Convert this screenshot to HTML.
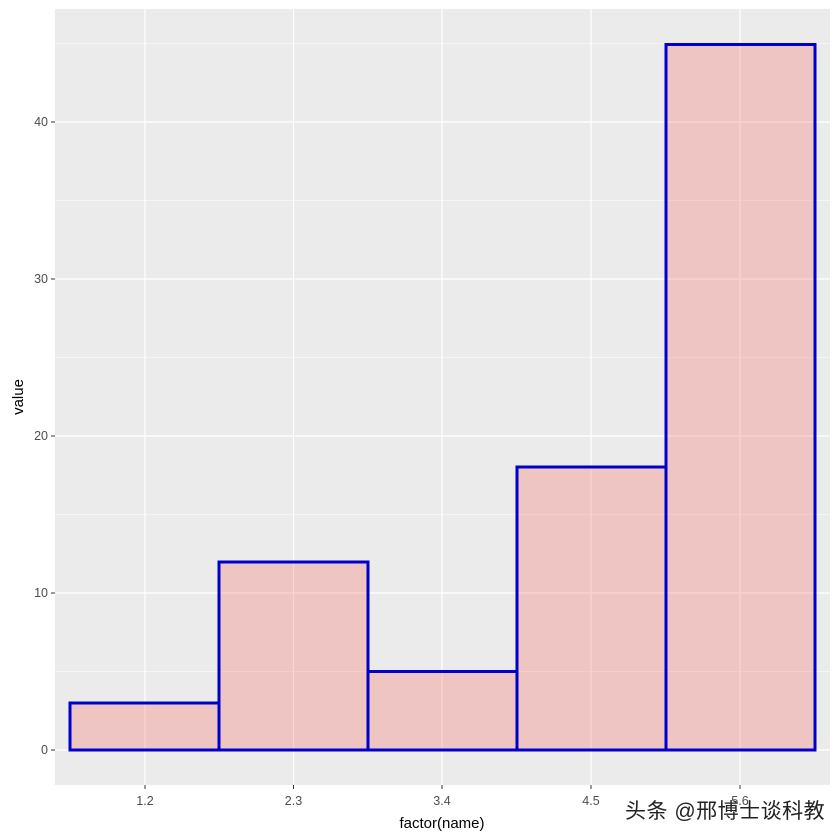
<!DOCTYPE html>
<html><head><meta charset="utf-8"><style>html,body{margin:0;padding:0;background:#fff}svg{display:block}</style></head>
<body>
<svg width="840" height="840" xmlns="http://www.w3.org/2000/svg" font-family="Liberation Sans, sans-serif">
<rect x="55" y="9" width="775" height="776" fill="#EBEBEB"/>
<g stroke="#fff" stroke-width="0.6">
<line x1="55" x2="830" y1="671.5" y2="671.5"/><line x1="55" x2="830" y1="514.5" y2="514.5"/><line x1="55" x2="830" y1="357.5" y2="357.5"/><line x1="55" x2="830" y1="200.5" y2="200.5"/><line x1="55" x2="830" y1="43.5" y2="43.5"/>
</g>
<g stroke="#fff" stroke-width="1.2">
<line x1="55" x2="830" y1="750" y2="750"/><line x1="55" x2="830" y1="593" y2="593"/><line x1="55" x2="830" y1="436" y2="436"/><line x1="55" x2="830" y1="279" y2="279"/><line x1="55" x2="830" y1="122" y2="122"/>
<line y1="9" y2="785" x1="145" x2="145"/><line y1="9" y2="785" x1="293.5" x2="293.5"/><line y1="9" y2="785" x1="442" x2="442"/><line y1="9" y2="785" x1="591" x2="591"/><line y1="9" y2="785" x1="740" x2="740"/>
</g>
<g fill="rgba(245,120,115,0.33)" stroke="#0000CD" stroke-width="3">
<rect x="70" y="703" width="149" height="47"/>
<rect x="219" y="562" width="149" height="188"/>
<rect x="368" y="671.5" width="149" height="78.5"/>
<rect x="517" y="467" width="149" height="283"/>
<rect x="666" y="44.5" width="149" height="705.5"/>
</g>
<g stroke="#333" stroke-width="1">
<line x1="51" x2="55" y1="750" y2="750"/><line x1="51" x2="55" y1="593" y2="593"/><line x1="51" x2="55" y1="436" y2="436"/><line x1="51" x2="55" y1="279" y2="279"/><line x1="51" x2="55" y1="122" y2="122"/>
<line y1="785" y2="789" x1="145" x2="145"/><line y1="785" y2="789" x1="293.5" x2="293.5"/><line y1="785" y2="789" x1="442" x2="442"/><line y1="785" y2="789" x1="591" x2="591"/><line y1="785" y2="789" x1="740" x2="740"/>
</g>
<g fill="#4D4D4D" font-size="12.5" text-anchor="end">
<text x="48" y="754">0</text><text x="48" y="597">10</text><text x="48" y="440">20</text><text x="48" y="283">30</text><text x="48" y="126">40</text>
</g>
<g fill="#4D4D4D" font-size="12.5" text-anchor="middle">
<text x="145" y="805">1.2</text><text x="293.5" y="805">2.3</text><text x="442" y="805">3.4</text><text x="591" y="805">4.5</text><text x="740" y="805">5.6</text>
</g>
<text x="442" y="828" font-size="15" text-anchor="middle" fill="#000">factor(name)</text>
<text transform="translate(23,397) rotate(-90)" font-size="15" text-anchor="middle" fill="#000">value</text>
<text x="625" y="818" font-size="21" letter-spacing="0.5" fill="#fff" font-family="Liberation Sans, Noto Sans CJK SC, sans-serif" dx="1" dy="1">头条 @邢博士谈科教</text>
<text x="625" y="818" font-size="21" letter-spacing="0.5" fill="#222" font-family="Liberation Sans, Noto Sans CJK SC, sans-serif">头条 @邢博士谈科教</text>
</svg>
</body></html>
